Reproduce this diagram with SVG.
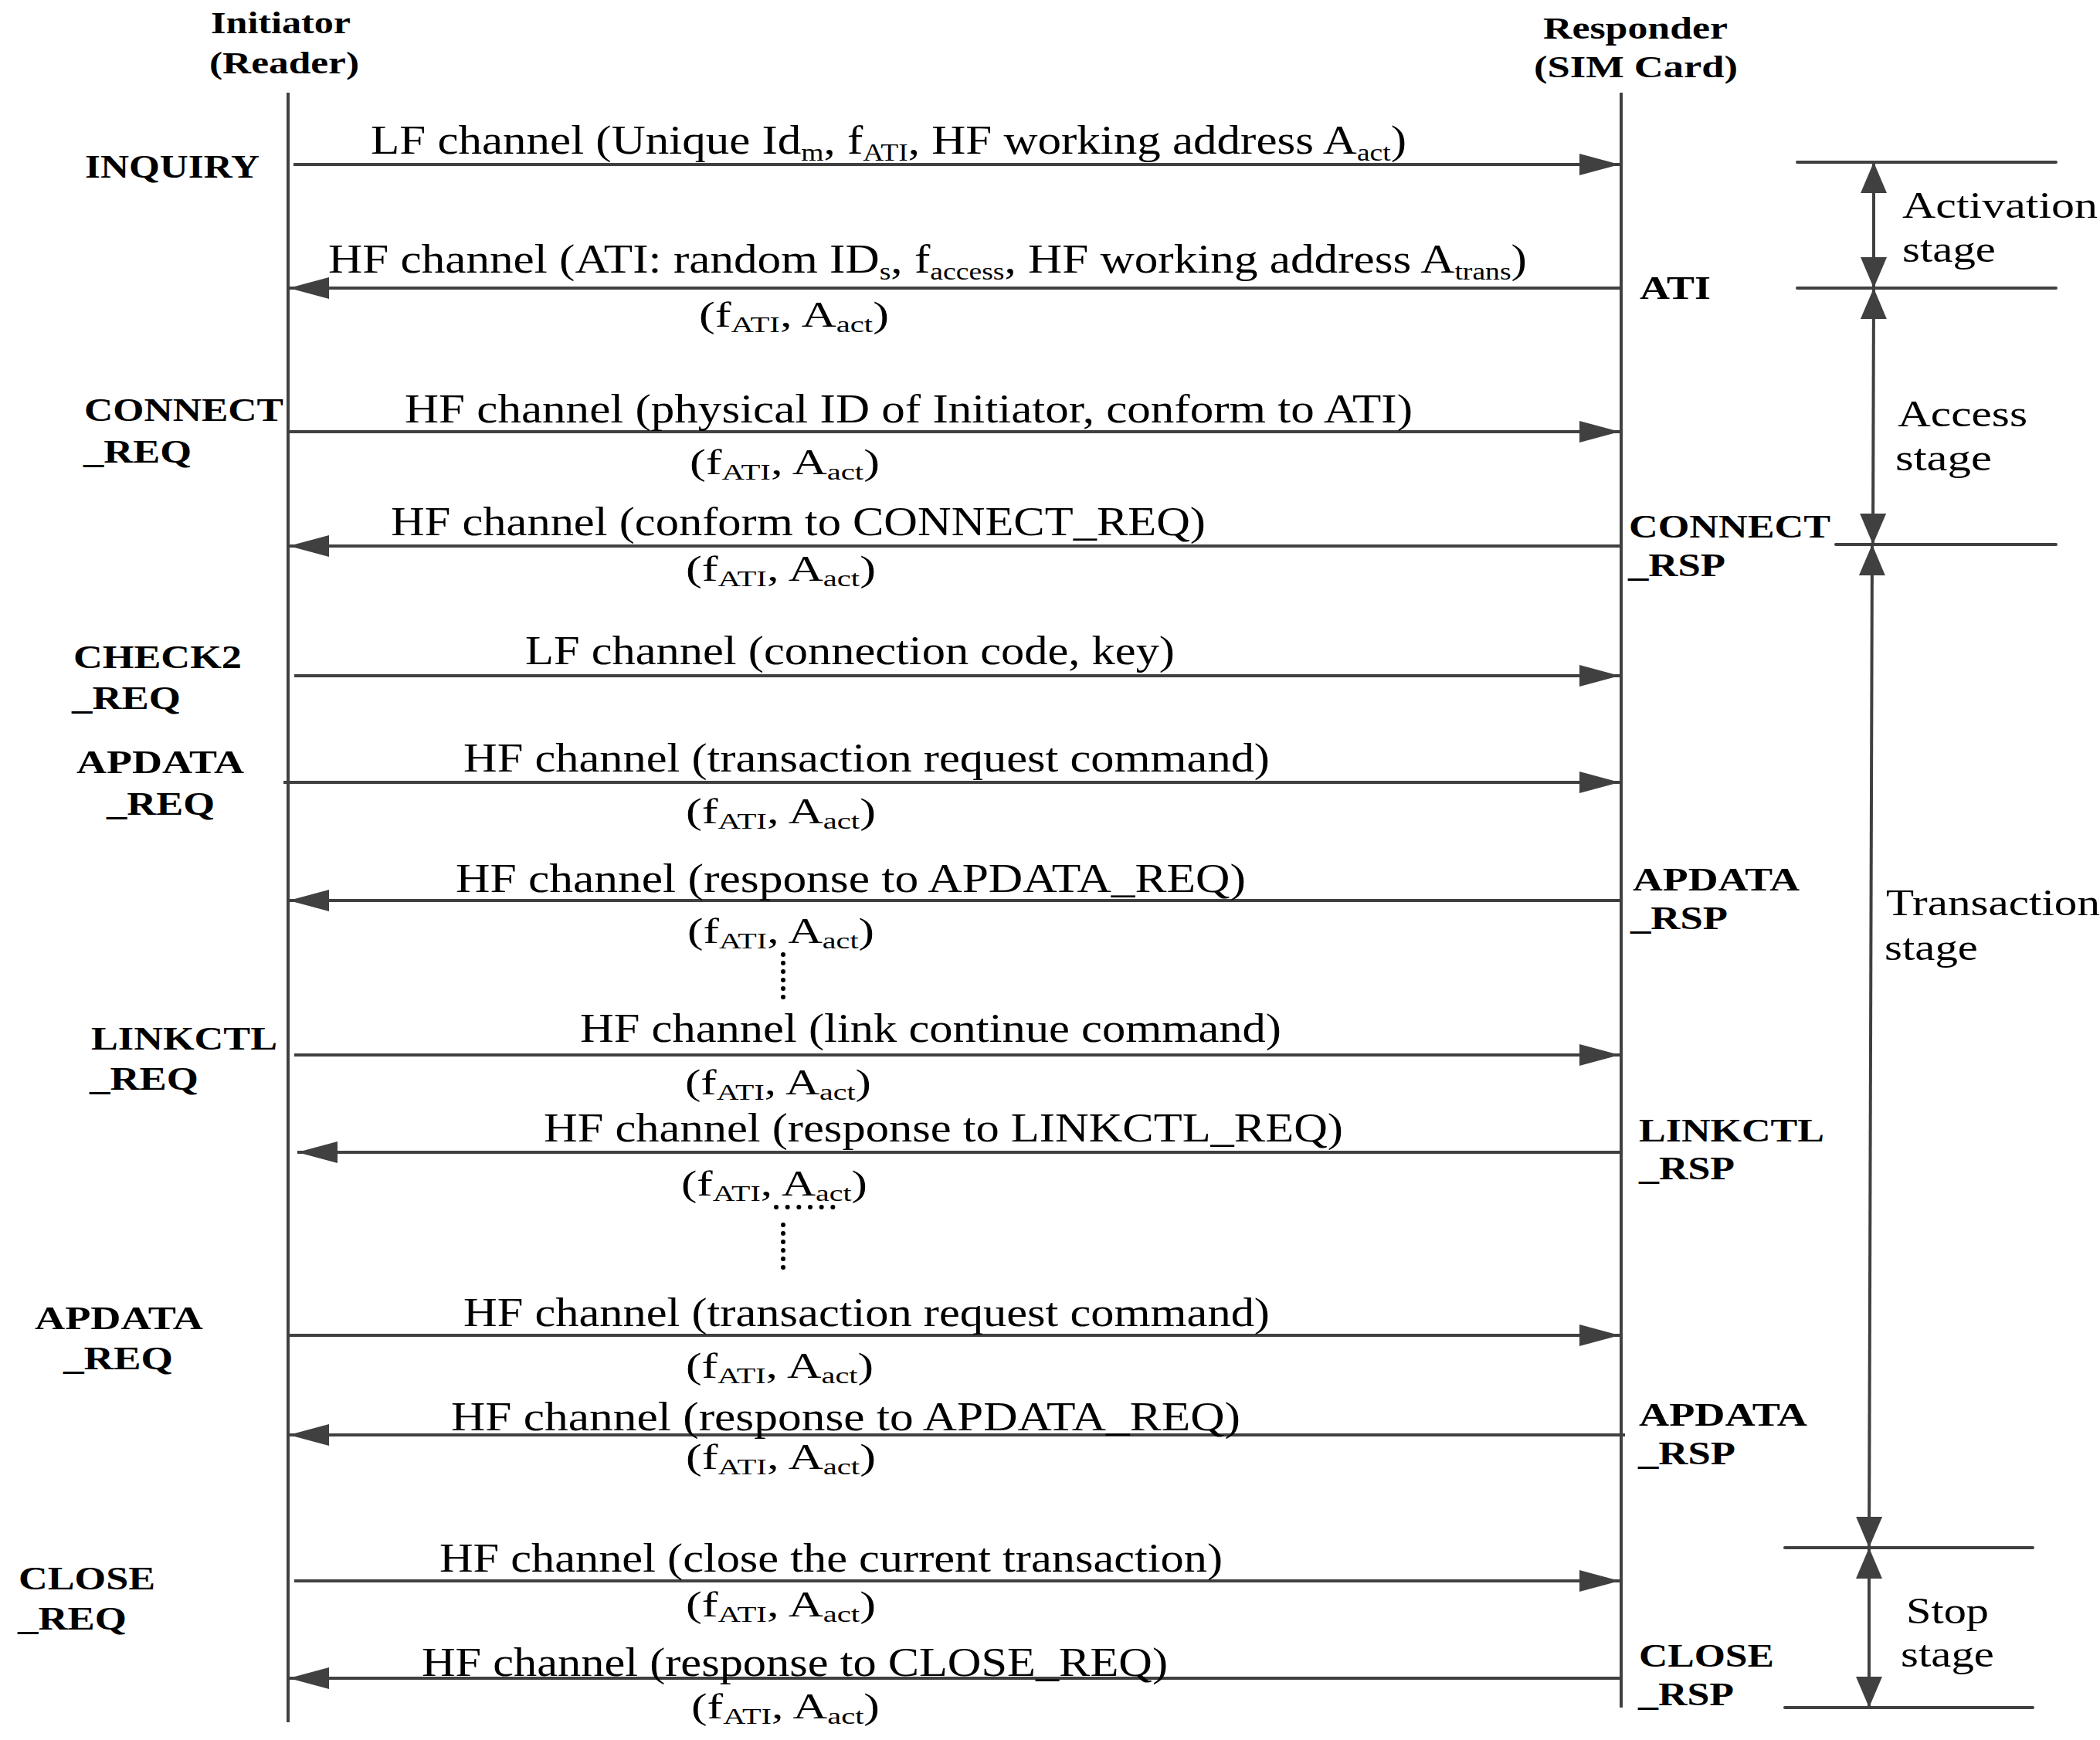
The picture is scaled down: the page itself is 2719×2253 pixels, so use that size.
<svg xmlns="http://www.w3.org/2000/svg" width="2719" height="2253" viewBox="0 0 2719 2253">
<style>
text { font-family: "Liberation Serif", "Times New Roman", serif; fill: #000; }
.h { font-size: 40px; font-weight: bold; }
.b { font-size: 43px; font-weight: bold; }
.m { font-size: 52px; }
.p { font-size: 46px; }
.st { font-size: 48px; }
.s { font-size: 32px; }
.ps { font-size: 30px; }
.life { stroke: #404040; stroke-width: 4; fill: none; }
.msg { stroke: #404040; stroke-width: 4; fill: none; marker-end: url(#ah); }
.sl { stroke: #404040; stroke-width: 4; fill: none; stroke-linecap: round; }
.sa { stroke: #404040; stroke-width: 4; fill: none; marker-start: url(#sh); marker-end: url(#sh); }
.dots { stroke: #000; stroke-width: 6; stroke-linecap: round; fill: none; }
</style>
<defs>
<marker id="ah" markerUnits="userSpaceOnUse" markerWidth="52" markerHeight="28" viewBox="0 0 52 28" refX="52" refY="14" orient="auto">
<path d="M0,0 L52,14 L0,28 z" fill="#404040"/>
</marker>
<marker id="sh" markerUnits="userSpaceOnUse" markerWidth="40" markerHeight="34" viewBox="0 0 40 34" refX="40" refY="17" orient="auto-start-reverse">
<path d="M0,0 L40,17 L0,34 z" fill="#404040"/>
</marker>
</defs>
<rect width="2719" height="2253" fill="#fff"/>

<g id="initiator">
<text class="h" x="273" y="43" textLength="181" lengthAdjust="spacingAndGlyphs">Initiator</text>
<text class="h" x="271" y="95" textLength="194" lengthAdjust="spacingAndGlyphs">(Reader)</text>
<line class="life" x1="373" y1="120" x2="373" y2="2230"/>
</g>
<g id="responder">
<text class="h" x="1998" y="50" textLength="239" lengthAdjust="spacingAndGlyphs">Responder</text>
<text class="h" x="1986" y="100" textLength="264" lengthAdjust="spacingAndGlyphs">(SIM Card)</text>
<line class="life" x1="2099" y1="120" x2="2099" y2="2211"/>
</g>

<g id="left-labels">
<text class="b" x="110" y="230" textLength="226" lengthAdjust="spacingAndGlyphs">INQUIRY</text>
<text class="b" x="109" y="545" textLength="258" lengthAdjust="spacingAndGlyphs">CONNECT</text>
<text class="b" x="108" y="599" textLength="140" lengthAdjust="spacingAndGlyphs">_REQ</text>
<text class="b" x="95" y="865" textLength="218" lengthAdjust="spacingAndGlyphs">CHECK2</text>
<text class="b" x="93" y="918" textLength="141" lengthAdjust="spacingAndGlyphs">_REQ</text>
<text class="b" x="99" y="1001" textLength="217" lengthAdjust="spacingAndGlyphs">APDATA</text>
<text class="b" x="138" y="1055" textLength="140" lengthAdjust="spacingAndGlyphs">_REQ</text>
<text class="b" x="118" y="1359" textLength="241" lengthAdjust="spacingAndGlyphs">LINKCTL</text>
<text class="b" x="116" y="1411" textLength="141" lengthAdjust="spacingAndGlyphs">_REQ</text>
<text class="b" x="45" y="1721" textLength="218" lengthAdjust="spacingAndGlyphs">APDATA</text>
<text class="b" x="82" y="1773" textLength="142" lengthAdjust="spacingAndGlyphs">_REQ</text>
<text class="b" x="24" y="2058" textLength="177" lengthAdjust="spacingAndGlyphs">CLOSE</text>
<text class="b" x="23" y="2110" textLength="141" lengthAdjust="spacingAndGlyphs">_REQ</text>
</g>

<g id="right-labels">
<text class="b" x="2123" y="387" textLength="92" lengthAdjust="spacingAndGlyphs">ATI</text>
<text class="b" x="2109" y="696" textLength="261" lengthAdjust="spacingAndGlyphs">CONNECT</text>
<text class="b" x="2108" y="746" textLength="126" lengthAdjust="spacingAndGlyphs">_RSP</text>
<text class="b" x="2114" y="1153" textLength="216" lengthAdjust="spacingAndGlyphs">APDATA</text>
<text class="b" x="2111" y="1203" textLength="126" lengthAdjust="spacingAndGlyphs">_RSP</text>
<text class="b" x="2122" y="1478" textLength="240" lengthAdjust="spacingAndGlyphs">LINKCTL</text>
<text class="b" x="2122" y="1527" textLength="124" lengthAdjust="spacingAndGlyphs">_RSP</text>
<text class="b" x="2122" y="1846" textLength="218" lengthAdjust="spacingAndGlyphs">APDATA</text>
<text class="b" x="2121" y="1896" textLength="126" lengthAdjust="spacingAndGlyphs">_RSP</text>
<text class="b" x="2122" y="2158" textLength="175" lengthAdjust="spacingAndGlyphs">CLOSE</text>
<text class="b" x="2121" y="2208" textLength="124" lengthAdjust="spacingAndGlyphs">_RSP</text>
</g>

<g id="connectors">
<line class="msg" x1="380" y1="213" x2="2097" y2="213"/>
<line class="msg" x1="2097" y1="373" x2="374" y2="373"/>
<line class="msg" x1="373" y1="559" x2="2097" y2="559"/>
<line class="msg" x1="2097" y1="707" x2="374" y2="707"/>
<line class="msg" x1="381" y1="875" x2="2097" y2="875"/>
<line class="msg" x1="367" y1="1013" x2="2097" y2="1013"/>
<line class="msg" x1="2097" y1="1166" x2="374" y2="1166"/>
<line class="msg" x1="381" y1="1366" x2="2097" y2="1366"/>
<line class="msg" x1="2097" y1="1492" x2="385" y2="1492"/>
<line class="msg" x1="373" y1="1729" x2="2097" y2="1729"/>
<line class="msg" x1="2104" y1="1858" x2="374" y2="1858"/>
<line class="msg" x1="381" y1="2047" x2="2097" y2="2047"/>
<line class="msg" x1="2097" y1="2173" x2="374" y2="2173"/>
</g>

<g id="message-labels">
<text class="m" x="480" y="199" textLength="1341" lengthAdjust="spacingAndGlyphs">LF channel (Unique Id<tspan class="s" dy="9">m</tspan><tspan dy="-9">, f</tspan><tspan class="s" dy="9">ATI</tspan><tspan dy="-9">, HF working address A</tspan><tspan class="s" dy="9">act</tspan><tspan dy="-9">)</tspan></text>
<text class="m" x="425" y="353" textLength="1552" lengthAdjust="spacingAndGlyphs">HF channel (ATI: random ID<tspan class="s" dy="9">s</tspan><tspan dy="-9">, f</tspan><tspan class="s" dy="9">access</tspan><tspan dy="-9">, HF working address A</tspan><tspan class="s" dy="9">trans</tspan><tspan dy="-9">)</tspan></text>
<text class="p" x="905" y="423" textLength="246" lengthAdjust="spacingAndGlyphs">(f<tspan class="ps" dy="7">ATI</tspan><tspan dy="-7">, A</tspan><tspan class="ps" dy="7">act</tspan><tspan dy="-7">)</tspan></text>

<text class="m" x="524" y="547" textLength="1305" lengthAdjust="spacingAndGlyphs">HF channel (physical ID of Initiator, conform to ATI)</text>
<text class="p" x="893" y="614" textLength="246" lengthAdjust="spacingAndGlyphs">(f<tspan class="ps" dy="7">ATI</tspan><tspan dy="-7">, A</tspan><tspan class="ps" dy="7">act</tspan><tspan dy="-7">)</tspan></text>

<text class="m" x="506" y="693" textLength="1055" lengthAdjust="spacingAndGlyphs">HF channel (conform to CONNECT_REQ)</text>
<text class="p" x="888" y="752" textLength="246" lengthAdjust="spacingAndGlyphs">(f<tspan class="ps" dy="7">ATI</tspan><tspan dy="-7">, A</tspan><tspan class="ps" dy="7">act</tspan><tspan dy="-7">)</tspan></text>

<text class="m" x="680" y="860" textLength="841" lengthAdjust="spacingAndGlyphs">LF channel (connection code, key)</text>

<text class="m" x="600" y="999" textLength="1044" lengthAdjust="spacingAndGlyphs">HF channel (transaction request command)</text>
<text class="p" x="888" y="1066" textLength="246" lengthAdjust="spacingAndGlyphs">(f<tspan class="ps" dy="7">ATI</tspan><tspan dy="-7">, A</tspan><tspan class="ps" dy="7">act</tspan><tspan dy="-7">)</tspan></text>

<text class="m" x="590" y="1155" textLength="1023" lengthAdjust="spacingAndGlyphs">HF channel (response to APDATA_REQ)</text>
<text class="p" x="890" y="1221" textLength="242" lengthAdjust="spacingAndGlyphs">(f<tspan class="ps" dy="7">ATI</tspan><tspan dy="-7">, A</tspan><tspan class="ps" dy="7">act</tspan><tspan dy="-7">)</tspan></text>

<text class="m" x="751" y="1349" textLength="908" lengthAdjust="spacingAndGlyphs">HF channel (link continue command)</text>
<text class="p" x="887" y="1417" textLength="241" lengthAdjust="spacingAndGlyphs">(f<tspan class="ps" dy="7">ATI</tspan><tspan dy="-7">, A</tspan><tspan class="ps" dy="7">act</tspan><tspan dy="-7">)</tspan></text>

<text class="m" x="704" y="1478" textLength="1035" lengthAdjust="spacingAndGlyphs">HF channel (response to LINKCTL_REQ)</text>
<text class="p" x="882" y="1548" textLength="241" lengthAdjust="spacingAndGlyphs">(f<tspan class="ps" dy="7">ATI</tspan><tspan dy="-7">, A</tspan><tspan class="ps" dy="7">act</tspan><tspan dy="-7">)</tspan></text>

<text class="m" x="600" y="1717" textLength="1044" lengthAdjust="spacingAndGlyphs">HF channel (transaction request command)</text>
<text class="p" x="888" y="1784" textLength="243" lengthAdjust="spacingAndGlyphs">(f<tspan class="ps" dy="7">ATI</tspan><tspan dy="-7">, A</tspan><tspan class="ps" dy="7">act</tspan><tspan dy="-7">)</tspan></text>

<text class="m" x="584" y="1852" textLength="1022" lengthAdjust="spacingAndGlyphs">HF channel (response to APDATA_REQ)</text>
<text class="p" x="888" y="1902" textLength="246" lengthAdjust="spacingAndGlyphs">(f<tspan class="ps" dy="7">ATI</tspan><tspan dy="-7">, A</tspan><tspan class="ps" dy="7">act</tspan><tspan dy="-7">)</tspan></text>

<text class="m" x="569" y="2035" textLength="1014" lengthAdjust="spacingAndGlyphs">HF channel (close the current transaction)</text>
<text class="p" x="888" y="2093" textLength="246" lengthAdjust="spacingAndGlyphs">(f<tspan class="ps" dy="7">ATI</tspan><tspan dy="-7">, A</tspan><tspan class="ps" dy="7">act</tspan><tspan dy="-7">)</tspan></text>

<text class="m" x="546" y="2170" textLength="966" lengthAdjust="spacingAndGlyphs">HF channel (response to CLOSE_REQ)</text>
<text class="p" x="895" y="2225" textLength="244" lengthAdjust="spacingAndGlyphs">(f<tspan class="ps" dy="7">ATI</tspan><tspan dy="-7">, A</tspan><tspan class="ps" dy="7">act</tspan><tspan dy="-7">)</tspan></text>
</g>

<g id="ellipsis">
<line class="dots" x1="1014" y1="1236" x2="1014" y2="1302" stroke-dasharray="0 11"/>
<line class="dots" x1="1005" y1="1563" x2="1093" y2="1563" stroke-dasharray="0 14.67"/>
<line class="dots" x1="1014" y1="1586" x2="1014" y2="1652" stroke-dasharray="0 11"/>
</g>

<g id="stage-activation">
<line class="sl" x1="2327" y1="210" x2="2662" y2="210"/>
<line class="sa" x1="2426" y1="210" x2="2426" y2="373"/>
<text class="st" x="2463" y="282" textLength="253" lengthAdjust="spacingAndGlyphs">Activation</text>
<text class="st" x="2463" y="339" textLength="121" lengthAdjust="spacingAndGlyphs">stage</text>
</g>
<g id="stage-access">
<line class="sl" x1="2327" y1="373" x2="2662" y2="373"/>
<line class="sa" x1="2426" y1="373" x2="2425" y2="705"/>
<text class="st" x="2457" y="552" textLength="168" lengthAdjust="spacingAndGlyphs">Access</text>
<text class="st" x="2454" y="609" textLength="125" lengthAdjust="spacingAndGlyphs">stage</text>
</g>
<g id="stage-transaction">
<line class="sl" x1="2377" y1="705" x2="2662" y2="705"/>
<line class="sa" x1="2424" y1="705" x2="2420" y2="2004"/>
<text class="st" x="2442" y="1185" textLength="277" lengthAdjust="spacingAndGlyphs">Transaction</text>
<text class="st" x="2440" y="1243" textLength="121" lengthAdjust="spacingAndGlyphs">stage</text>
</g>
<g id="stage-stop">
<line class="sl" x1="2311" y1="2004" x2="2632" y2="2004"/>
<line class="sa" x1="2420" y1="2004" x2="2420" y2="2211"/>
<line class="sl" x1="2311" y1="2211" x2="2632" y2="2211"/>
<text class="st" x="2468" y="2102" textLength="107" lengthAdjust="spacingAndGlyphs">Stop</text>
<text class="st" x="2461" y="2158" textLength="121" lengthAdjust="spacingAndGlyphs">stage</text>
</g>
</svg>
